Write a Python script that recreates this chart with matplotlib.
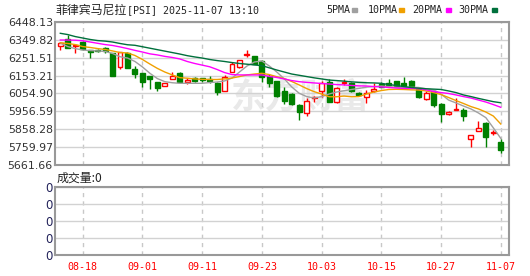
import matplotlib.pyplot as plt
from matplotlib.patches import Rectangle

# daily OHLC (PSI, 60 sessions up to 11-07)
opens = [6318, 6353, 6318, 6340, 6294, 6293, 6303, 6276, 6199, 6279,
         6188, 6166, 6151, 6116, 6098, 6136, 6169, 6120, 6138, 6140,
         6135, 6114, 6070, 6175, 6199, 6266, 6260, 6232, 6150, 6122,
         6070, 6050, 5990, 5950, 6032, 6070, 6120, 6006, 6112, 6111,
         6058, 6038, 6070, 6105, 6111, 6124, 6114, 6124, 6080, 6024,
         6069, 5997, 5941, 5966, 5964, 5805, 5851, 5891, 5840, 5790]
highs = [6340, 6377, 6325, 6342, 6296, 6298, 6312, 6280, 6283, 6281,
         6208, 6168, 6153, 6118, 6113, 6175, 6172, 6142, 6145, 6142,
         6151, 6116, 6157, 6228, 6240, 6294, 6262, 6238, 6160, 6126,
         6090, 6058, 5995, 6028, 6043, 6125, 6133, 6092, 6135, 6118,
         6062, 6074, 6111, 6118, 6135, 6126, 6147, 6131, 6085, 6068,
         6074, 6000, 5960, 6028, 5973, 5829, 5905, 5896, 5853, 5803]
lows = [6294, 6305, 6276, 6296, 6248, 6282, 6276, 6150, 6188, 6195,
        6142, 6092, 6078, 6070, 6094, 6133, 6113, 6107, 6120, 6120,
        6111, 6045, 6067, 6173, 6195, 6257, 6217, 6120, 6090, 6035,
        5995, 5990, 5910, 5930, 6010, 6034, 6008, 6003, 6100, 6062,
        6045, 6002, 6065, 6090, 6100, 6090, 6094, 6090, 6032, 6020,
        5982, 5900, 5935, 5964, 5905, 5762, 5850, 5762, 5827, 5726]
closes = [6331, 6307, 6323, 6298, 6285, 6286, 6290, 6153, 6281, 6197,
          6162, 6120, 6133, 6083, 6111, 6151, 6120, 6129, 6125, 6127,
          6126, 6061, 6147, 6215, 6237, 6271, 6219, 6145, 6115, 6042,
          6015, 5995, 5952, 6014, 6036, 6111, 6010, 6083, 6116, 6070,
          6048, 6056, 6080, 6093, 6102, 6094, 6098, 6094, 6036, 6060,
          5992, 5940, 5955, 5969, 5933, 5827, 5864, 5817, 5843, 5742]

# moving averages as drawn on the chart
ma5 = [6333, 6313, 6302, 6294, 6291, 6289, 6286, 6275, 6257, 6250,
       6231, 6201, 6166, 6137, 6120, 6114, 6111, 6111, 6111, 6111,
       6115, 6118, 6124, 6140, 6173, 6206, 6228, 6234, 6206, 6173,
       6135, 6091, 6056, 6038, 6030, 6038, 6052, 6063, 6070, 6077,
       6083, 6090, 6093, 6096, 6093, 6089, 6089, 6089, 6088, 6081,
       6074, 6052, 6019, 6003, 5986, 5970, 5948, 5922, 5866, 5808]
ma10 = [6334, 6330, 6324, 6313, 6308, 6302, 6297, 6289, 6280, 6278,
        6264, 6242, 6217, 6193, 6173, 6157, 6142, 6139, 6135, 6133,
        6132, 6132, 6135, 6140, 6148, 6157, 6162, 6166, 6159, 6147,
        6137, 6121, 6102, 6082, 6065, 6052, 6037, 6037, 6041, 6037,
        6038, 6052, 6063, 6071, 6077, 6078, 6077, 6075, 6074, 6069,
        6060, 6049, 6033, 6016, 6000, 5983, 5970, 5953, 5931, 5887]
ma20 = [6349, 6349, 6348, 6345, 6338, 6331, 6324, 6319, 6311, 6302,
        6292, 6283, 6273, 6267, 6259, 6253, 6245, 6231, 6220, 6211,
        6202, 6187, 6170, 6159, 6157, 6157, 6157, 6157, 6149, 6143,
        6135, 6126, 6120, 6116, 6113, 6110, 6107, 6104, 6102, 6099,
        6097, 6096, 6093, 6091, 6088, 6085, 6083, 6083, 6082, 6075,
        6066, 6060, 6055, 6047, 6038, 6030, 6019, 6008, 5994, 5979]
ma30 = [6386, 6379, 6368, 6360, 6352, 6346, 6343, 6338, 6330, 6323,
        6320, 6312, 6304, 6296, 6288, 6280, 6272, 6263, 6256, 6250,
        6242, 6236, 6231, 6225, 6220, 6216, 6212, 6208, 6196, 6184,
        6173, 6162, 6155, 6148, 6141, 6135, 6129, 6126, 6123, 6119,
        6116, 6114, 6113, 6111, 6104, 6099, 6093, 6088, 6084, 6081,
        6079, 6077, 6069, 6060, 6047, 6038, 6028, 6019, 6010, 6004]

date_pos = [3, 11, 19, 27, 35, 43, 51, 59]
date_labels = ['08-18', '09-01', '09-11', '09-23', '10-03', '10-15', '10-27', '11-07']
price_ticks = [6448.13, 6349.82, 6251.51, 6153.21, 6054.90, 5956.59, 5858.28, 5759.97, 5661.66]

ma_names = ['5PMA', '10PMA', '20PMA', '30PMA']
ma_colors = ['#a0a0a0', '#f0a000', '#ff00ff', '#00703c']

W, H = 530, 276
RED, GREEN = '#ff0000', '#008000'
GRID = '#d2d2d2'
SPINE = '#999999'
CJK = ['Noto Sans CJK SC', 'DejaVu Sans']
MONO = 'DejaVu Sans Mono'


def box(l, t, r, b):
    return [l / W, 1 - b / H, (r - l) / W, (b - t) / H]


fig = plt.figure(figsize=(W / 100, H / 100), dpi=100)
ax = fig.add_axes(box(55, 22, 509, 165))
vax = fig.add_axes(box(55, 187, 509, 255))

# candles
for i in range(len(closes)):
    o, h, l, c = opens[i], highs[i], lows[i], closes[i]
    up = c >= o
    col = RED if up else GREEN
    ax.vlines(i, l, h, color=col, lw=1, zorder=3)
    bottom = min(o, c)
    height = max(abs(c - o), 4)
    ax.bar(i, height, bottom=bottom, width=0.66,
           facecolor='white' if up else GREEN, edgecolor=col, lw=1, zorder=4)

# moving averages
xs = list(range(len(closes)))
for vals, col in zip([ma5, ma10, ma20, ma30], ma_colors):
    ax.plot(xs, vals, color=col, lw=1, zorder=5)

# watermark (east money logo text), sits under the transparent axes
fig.text(300 / W, 1 - 97 / H, '东方财富', family=CJK, fontsize=25,
         weight='bold', color='#e9e9e9', ha='center', va='center', zorder=-1)
ax.patch.set_alpha(0)

for a in (ax, vax):
    a.set_xlim(-0.71, 60.1)
    for d in date_pos:
        a.axvline(d, color='#c8c8c8', lw=1, ls=(0, (3, 3)), zorder=0)
    a.grid(axis='y', color=GRID, lw=1)
    a.set_axisbelow(True)
    for s in a.spines.values():
        s.set_color(SPINE)
        s.set_linewidth(1.5)
    a.tick_params(length=0, pad=1.5, labelsize=7.9, labelcolor='#333333')

ax.set_ylim(price_ticks[-1], price_ticks[0])
ax.set_yticks(price_ticks)
ax.set_yticklabels([f'{v:.2f}' for v in price_ticks])
ax.set_xticks([])

vax.set_ylim(0, 4)
vax.set_yticks([0, 1, 2, 3, 4])
vax.set_yticklabels(['0'] * 5, color='#22225a', fontsize=8.5)
vax.set_xticks(date_pos)
vax.set_xticklabels(date_labels, family=MONO, fontsize=7.2, color=RED)
vax.tick_params(axis='x', pad=5)

# title
fig.text(55 / W, 1 - 10 / H, '菲律宾马尼拉', family=CJK, fontsize=8.6,
         color='#222222', va='center')
fig.text(127 / W, 1 - 10 / H, '[PSI] 2025-11-07 13:10', family=MONO,
         fontsize=7.2, color='#222222', va='center')

# legend
leg_x = [326, 368, 412, 458]
dash_x = [352, 399, 446, 492]
for name, col, tx, dx in zip(ma_names, ma_colors, leg_x, dash_x):
    fig.text(tx / W, 1 - 10 / H, name, family=MONO, fontsize=7.2,
             color='#222222', va='center')
    fig.patches.append(Rectangle((dx / W, 1 - 11.5 / H), 5 / W, 3 / H,
                                 transform=fig.transFigure, color=col))

fig.text(57 / W, 1 - 178 / H, '成交量:0', family=CJK, fontsize=8.6,
         color='#222222', va='center')

fig.savefig('out.png', dpi=100)
